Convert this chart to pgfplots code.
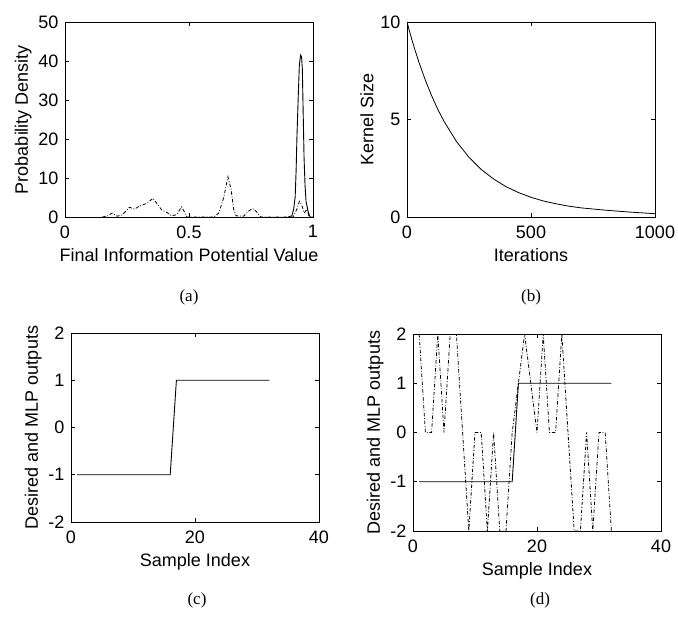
\documentclass[border=0pt]{standalone}
\usepackage{fontspec}
\setmainfont{Liberation Sans}
\newfontfamily\capfont{Liberation Serif}
\usepackage{pgfplots}
\pgfplotsset{compat=1.18}

\pgfplotsset{matlab/.style={
    scale only axis,
    width=248pt,
    tick align=inside,
    major tick length=4pt,
    axis line style={line width=0.9pt},
    every tick/.style={black, line width=0.7pt},
    tick label style={font=\fontsize{18}{21}\selectfont},
    label style={font=\fontsize{18}{21}\selectfont},
    xticklabel shift=5pt,
    yticklabel shift=3pt,
    xlabel style={yshift=-3pt},
    /pgf/number format/assume math mode=true,
    /pgf/number format/1000 sep={},
    scaled ticks=false,
}}
\tikzset{dashdot/.style={line width=0.8pt, dash pattern=on 3.5pt off 1.8pt on 0.8pt off 1.8pt}}

\begin{document}
\begin{tikzpicture}[x=1pt,y=1pt]
\path[use as bounding box] (0,0) rectangle (678,-620);

% (a)
\begin{axis}[matlab, at={(65pt,-217pt)}, anchor=south west, height=195pt,
    xmin=0, xmax=1, ymin=0, ymax=50,
    xtick={0,0.5,1}, ytick={0,10,20,30,40,50},
    xlabel={Final Information Potential Value},
    ylabel={Probability Density}]
\addplot[black, line width=0.9pt] coordinates {
    (0.90,0) (0.915,0.3) (0.922,2) (0.928,5) (0.932,12) (0.935,20) (0.940,30)
    (0.945,39) (0.950,41.5) (0.954,41) (0.957,38) (0.960,28) (0.964,15)
    (0.968,8) (0.972,4) (0.980,1.5) (0.988,0) (1.0,0)
};
\addplot[black, dashdot] coordinates {
    (0.15,0) (0.17,0.2) (0.19,1.0) (0.21,0.2) (0.23,0.5) (0.26,2.5)
    (0.28,2.0) (0.30,2.8) (0.33,3.5) (0.355,4.8) (0.37,3.5) (0.39,1.8)
    (0.41,1.2) (0.43,0.3) (0.45,0.6) (0.47,2.6) (0.48,1.5) (0.49,0)
    (0.60,0) (0.62,1) (0.64,5) (0.657,10.3) (0.67,7) (0.68,2) (0.69,0.3)
    (0.72,0.2) (0.74,1.5) (0.755,2.2) (0.77,1.5) (0.79,0) (0.92,0)
    (0.935,2) (0.945,4) (0.955,3) (0.965,1) (0.975,2) (0.985,0)
};
\end{axis}

% (b)
\begin{axis}[matlab, at={(407pt,-217pt)}, anchor=south west, height=195pt,
    xmin=0, xmax=1000, ymin=0, ymax=10,
    xtick={0,500,1000}, ytick={0,5,10},
    xlabel={Iterations},
    ylabel={Kernel Size}]
\addplot[black, line width=0.8pt] coordinates {
    (0,10) (10,9.53) (20,9.08) (32,8.57) (50,7.87) (75,6.98) (100,6.20)
    (125,5.50) (150,4.89) (200,3.86) (250,3.06) (300,2.43) (350,1.94)
    (400,1.55) (450,1.25) (500,1.01) (550,0.82) (600,0.68) (650,0.56)
    (700,0.47) (800,0.35) (900,0.25) (1000,0.17)
};
\end{axis}

% (c)
\begin{axis}[matlab, at={(71pt,-522pt)}, anchor=south west, height=189pt,
    xmin=0, xmax=40, ymin=-2, ymax=2,
    xtick={0,20,40}, ytick={-2,-1,0,1,2},
    xlabel={Sample Index},
    ylabel={Desired and MLP outputs}]
\addplot[black, line width=0.9pt] coordinates {
    (1,-1) (16,-1) (17,1) (32,1)
};
\end{axis}

% (d)
\begin{axis}[matlab, at={(413pt,-531pt)}, anchor=south west, height=197pt,
    xmin=0, xmax=40, ymin=-2, ymax=2,
    xtick={0,20,40}, ytick={-2,-1,0,1,2},
    xlabel={Sample Index},
    ylabel={Desired and MLP outputs}]
\addplot[black, line width=0.9pt] coordinates {
    (1,-1) (16,-1) (17,1) (32,1)
};
\addplot[black, dashdot] coordinates {
    (1,2) (2,0) (3,0) (4,2) (5,0) (6,2) (7,2) (8,0) (9,-2) (10,0)
    (11,0) (12,-2) (13,0) (14,-2) (15,-2) (16,0) (17,1) (18,2) (19,1)
    (20,0) (21,2) (22,0) (23,0) (24,2) (25,0) (26,-2) (27,-2) (28,0)
    (29,-2) (30,0) (31,0) (32,-2)
};
\end{axis}

\node[font=\capfont\fontsize{17}{20}\selectfont] at (189,-297) {(a)};
\node[font=\capfont\fontsize{17}{20}\selectfont] at (531,-297) {(b)};
\node[font=\capfont\fontsize{17}{20}\selectfont] at (197,-600) {(c)};
\node[font=\capfont\fontsize{17}{20}\selectfont] at (540,-600) {(d)};
\end{tikzpicture}
\end{document}
